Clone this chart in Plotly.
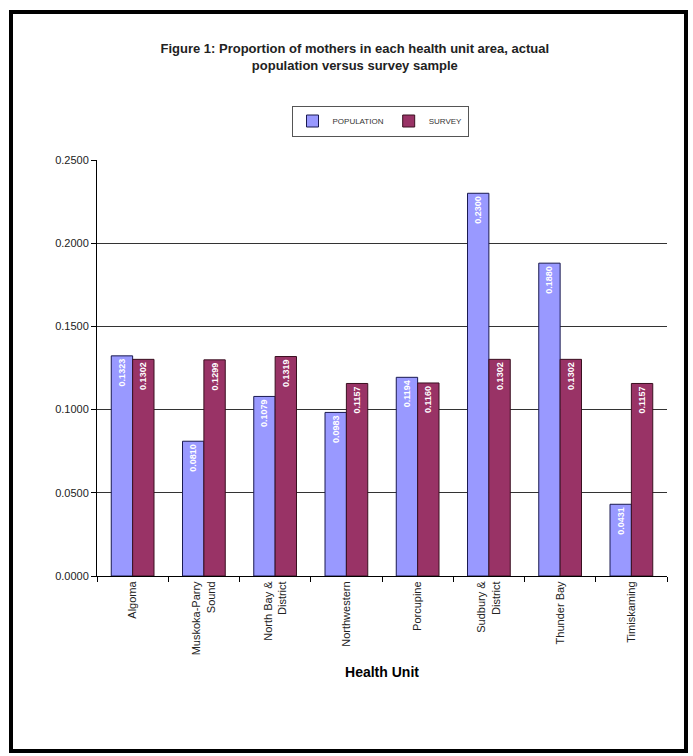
import plotly.graph_objects as go

units = ["Algoma", "Muskoka-Parry<br>Sound", "North Bay &<br>District", "Northwestern",
         "Porcupine", "Sudbury &<br>District", "Thunder Bay", "Timiskaming"]
population = [0.1323, 0.0810, 0.1079, 0.0983, 0.1194, 0.2300, 0.1880, 0.0431]
survey = [0.1302, 0.1299, 0.1319, 0.1157, 0.1160, 0.1302, 0.1302, 0.1157]
y_ticks = [0.0, 0.05, 0.10, 0.15, 0.20, 0.25]

W, H = 693, 756
L, R, T, B = 97, 667, 160, 576

fig = go.Figure()
fig.add_trace(go.Bar(
    x=units, y=population, name="POPULATION",
    marker=dict(color="#9999FF", line=dict(color="#1a1a50", width=1)),
    text=[f"<b>{v:.4f}</b>" for v in population], textposition="inside",
    insidetextanchor="end", textangle=-90,
    textfont=dict(color="white", size=9, family="Arial"),
    cliponaxis=False,
))
fig.add_trace(go.Bar(
    x=units, y=survey, name="SURVEY",
    marker=dict(color="#993366", line=dict(color="#3a1020", width=1)),
    text=[f"<b>{v:.4f}</b>" for v in survey], textposition="inside",
    insidetextanchor="end", textangle=-90,
    textfont=dict(color="white", size=9, family="Arial"),
    cliponaxis=False,
))

def px_x(p):
    return (p - L) / (R - L)

def px_y(p):
    return (B - p) / (B - T)

fig.update_layout(
    width=W, height=H,
    margin=dict(l=L, r=W - R, t=T, b=H - B),
    paper_bgcolor="white", plot_bgcolor="white",
    barmode="group", bargap=0.4, bargroupgap=0.0,
    font=dict(family="Arial, Liberation Sans", color="black"),
    title=dict(
        text="<b>Figure 1: Proportion of mothers in each health unit area, actual<br>population versus survey sample</b>",
        x=0.512, xanchor="center", y=1 - 53 / H, yanchor="middle", yref="container",
        font=dict(size=13, family="Arial", color="#222"),
    ),
    legend=dict(
        orientation="h", x=px_x(380), xanchor="center", y=px_y(121), yanchor="middle",
        bordercolor="#555", borderwidth=1, bgcolor="white",
        font=dict(size=8, color="#333"), tracegroupgap=0,
    ),
    showlegend=True,
    xaxis=dict(
        showline=True, linecolor="black", linewidth=1,
        ticks="outside", tickson="boundaries", ticklen=5, tickcolor="black",
        tickangle=-90, tickfont=dict(size=11, color="#222"),
        title=dict(text="<b>Health Unit</b>", font=dict(size=14), standoff=12),
        showgrid=False,
    ),
    yaxis=dict(
        range=[0, 0.25], tickvals=y_ticks, tickformat=".4f",
        showline=True, linecolor="black", linewidth=1,
        ticks="outside", ticklen=5, tickcolor="black",
        showgrid=True, gridcolor="#333", gridwidth=1,
        tickfont=dict(size=11, color="#222", family="Arial Black, Arial"),
        zeroline=False,
    ),
    shapes=[dict(
        type="rect", xref="paper", yref="paper",
        x0=px_x(11), x1=px_x(686), y0=px_y(751), y1=px_y(12),
        line=dict(color="black", width=4), fillcolor="rgba(0,0,0,0)", layer="above",
    )],
)

fig.write_html("out.html")
